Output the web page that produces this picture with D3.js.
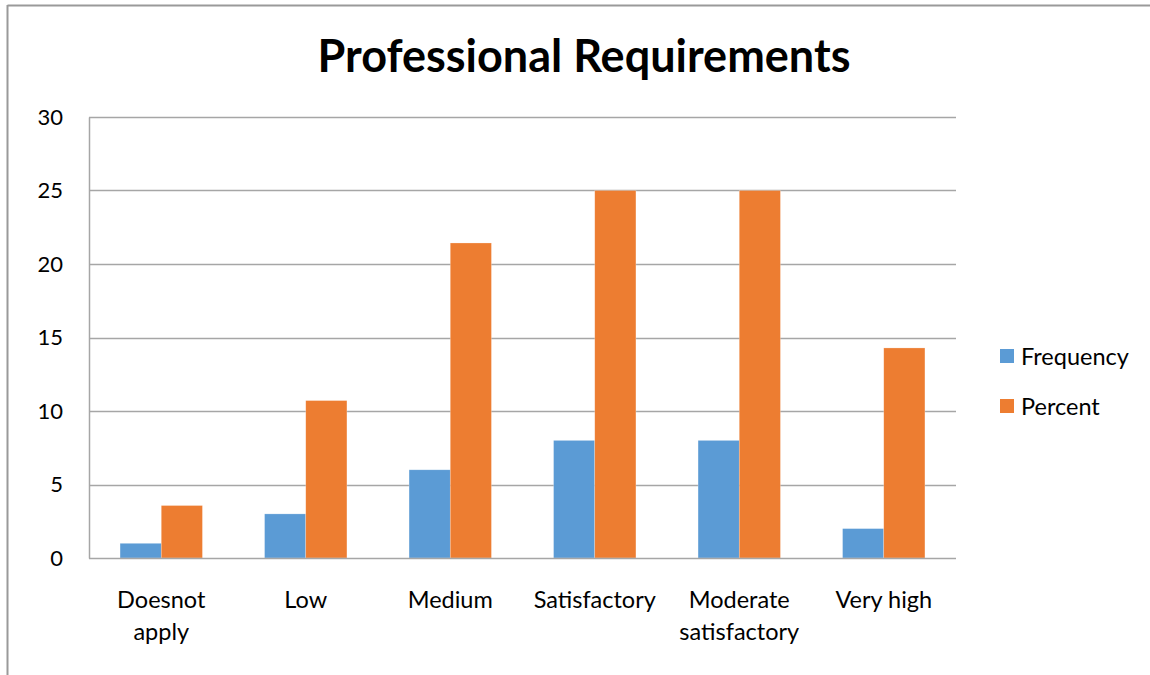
<!DOCTYPE html>
<html>
<head>
<meta charset="utf-8">
<script src="https://cdn.jsdelivr.net/npm/d3@7"></script>
<style>
  html, body { margin: 0; padding: 0; background: #fff; }
  svg { display: block; font-family: Lato, "Open Sans", sans-serif; }
</style>
</head>
<body>
<div id="vis"></div>
<script>
// chart data
var categories = [["Doesnot", "apply"], ["Low"], ["Medium"], ["Satisfactory"], ["Moderate", "satisfactory"], ["Very high"]];
var frequency = [1, 3, 6, 8, 8, 2];
var percent = [3.57, 10.71, 21.43, 25, 25, 14.29];
var seriesNames = ["Frequency", "Percent"];
var seriesColors = ["#5b9bd5", "#ed7d31"];
var yTicks = [0, 5, 10, 15, 20, 25, 30];

var W = 1150, H = 675;
var margin = { top: 117, right: 194, bottom: 117, left: 89 },
    width = W - margin.left - margin.right,
    height = H - margin.top - margin.bottom;

var svgRoot = d3.select("#vis").append("svg")
    .attr("width", W)
    .attr("height", H);

// outer frame (top + left only visible)
svgRoot.append("line").attr("x1", 7.5).attr("x2", W).attr("y1", 5.5).attr("y2", 5.5)
    .attr("stroke", "#9a9a9a").attr("stroke-width", 2);
svgRoot.append("line").attr("x1", 7.5).attr("x2", 7.5).attr("y1", 5).attr("y2", H)
    .attr("stroke", "#9a9a9a").attr("stroke-width", 2);

// title
svgRoot.append("text")
    .attr("x", 584)
    .attr("y", 72)
    .attr("text-anchor", "middle")
    .attr("font-size", "45px")
    .attr("font-weight", "700")
    .attr("fill", "#000")
    .text("Professional Requirements");

var svg = svgRoot.append("g")
    .attr("transform", "translate(" + margin.left + "," + margin.top + ")");

var rows = categories.map(function (c, i) {
    return { cat: c.join(" "), lines: c, values: [frequency[i], percent[i]] };
});

var x = d3.scaleBand()
    .domain(rows.map(function (d) { return d.cat; }))
    .range([0, width])
    .paddingInner(0.43)
    .paddingOuter(0.215);

var x1 = d3.scaleBand()
    .domain(seriesNames)
    .range([0, x.bandwidth()]);

var y = d3.scaleLinear()
    .domain([0, 30])
    .range([height, 0]);

// gridlines
svg.append("g")
    .selectAll("line")
    .data(yTicks.filter(function (t) { return t > 0; }))
    .enter()
    .append("line")
    .attr("x1", 0).attr("x2", width)
    .attr("y1", function (d) { return Math.round(y(d)) + 0.5; })
    .attr("y2", function (d) { return Math.round(y(d)) + 0.5; })
    .attr("stroke", "#a6a6a6")
    .attr("stroke-width", 1.3);

// y axis
var yAxis = svg.append("g")
    .call(d3.axisLeft(y).tickValues(yTicks).tickSize(0).tickPadding(26));
yAxis.selectAll("text")
    .attr("font-size", "22px")
    .attr("fill", "#000")
    .style("font-family", "Lato, 'Open Sans', sans-serif");
yAxis.select("path.domain")
    .attr("stroke", "#a6a6a6")
    .attr("stroke-width", 1.5);

// bars
var groups = svg.selectAll("g.grp")
    .data(rows)
    .enter()
    .append("g")
    .attr("class", "grp")
    .attr("transform", function (d) { return "translate(" + x(d.cat) + ",0)"; });

groups.selectAll("rect")
    .data(function (d) { return d.values.map(function (v, i) { return { key: seriesNames[i], value: v, i: i }; }); })
    .enter()
    .append("rect")
    .attr("x", function (d) { return x1(d.key); })
    .attr("y", function (d) { return y(d.value); })
    .attr("width", x1.bandwidth())
    .attr("height", function (d) { return height - y(d.value); })
    .attr("fill", function (d) { return seriesColors[d.i]; })
    .attr("stroke", "#fff")
    .attr("stroke-opacity", 0.4)
    .attr("stroke-width", 0.6);

// x axis line
svg.append("line")
    .attr("x1", 0).attr("x2", width)
    .attr("y1", height + 0.5).attr("y2", height + 0.5)
    .attr("stroke", "#a6a6a6")
    .attr("stroke-width", 1.5);

// category labels
var catLabels = svg.append("g")
    .selectAll("text")
    .data(rows)
    .enter()
    .append("text")
    .attr("text-anchor", "middle")
    .attr("font-size", "23.5px")
    .attr("fill", "#000")
    .attr("transform", function (d) { return "translate(" + (x(d.cat) + x.bandwidth() / 2) + "," + (height + 50) + ")"; });

catLabels.selectAll("tspan")
    .data(function (d) { return d.lines; })
    .enter()
    .append("tspan")
    .attr("x", 0)
    .attr("dy", function (d, i) { return i === 0 ? 0 : 32; })
    .text(function (d) { return d; });

// legend
var legend = svgRoot.append("g")
    .attr("transform", "translate(1000,349)");

var li = legend.selectAll("g")
    .data(seriesNames)
    .enter()
    .append("g")
    .attr("transform", function (d, i) { return "translate(0," + (i * 50) + ")"; });

li.append("rect")
    .attr("width", 14).attr("height", 14)
    .attr("fill", function (d, i) { return seriesColors[i]; });

li.append("text")
    .attr("x", 21)
    .attr("y", 16)
    .attr("font-size", "23.5px")
    .attr("fill", "#000")
    .text(function (d) { return d; });
</script>
</body>
</html>
